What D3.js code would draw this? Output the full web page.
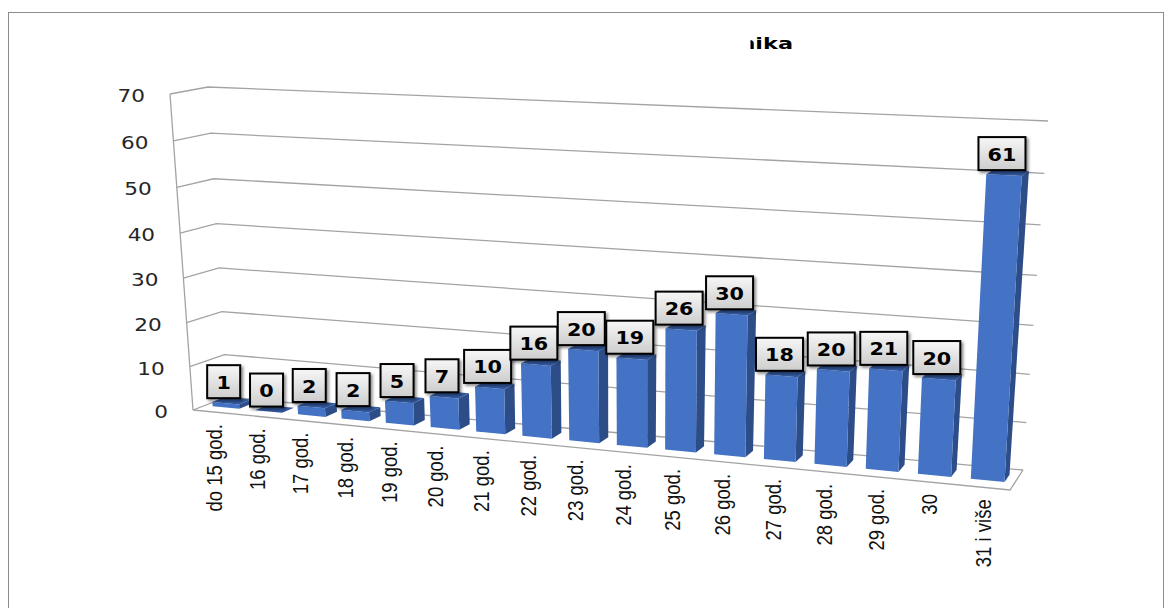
<!DOCTYPE html>
<html>
<head>
<meta charset="utf-8">
<script src="https://cdn.jsdelivr.net/npm/d3@7/dist/d3.min.js"></script>
<style>
  html, body { margin: 0; padding: 0; background: #fff; }
  svg { display: block; }
</style>
</head>
<body>
<script>
// ---------------- DATA ----------------
const categories = ["do 15 god.", "16 god.", "17 god.", "18 god.", "19 god.", "20 god.", "21 god.",
  "22 god.", "23 god.", "24 god.", "25 god.", "26 god.", "27 god.", "28 god.", "29 god.", "30", "31 i više"];
const values = [1, 0, 2, 2, 5, 7, 10, 16, 20, 19, 26, 30, 18, 20, 21, 20, 61];
const yTicks = [0, 10, 20, 30, 40, 50, 60, 70];
const titleText = "nika";

// ---------------- LAYOUT ----------------
const W = 1173, H = 608;
// 3D plot box corners (screen), front plane and back wall: (u=0,v=0), (1,0), (1,1), (0,1)
const FRONT = [[193, 410], [1010, 490], [1028, 133], [170, 94]];
const BACK  = [[227, 397], [1023, 470], [1048, 121], [208, 87]];
const D0 = 0.35, D1 = 0.72;   // bar depth range (0 = front, 1 = back)

function homography(q) {
  const [x0, y0] = q[0], [x1, y1] = q[1], [x2, y2] = q[2], [x3, y3] = q[3];
  const dx1 = x1 - x2, dx2 = x3 - x2, dx3 = x0 - x1 + x2 - x3;
  const dy1 = y1 - y2, dy2 = y3 - y2, dy3 = y0 - y1 + y2 - y3;
  const den = dx1 * dy2 - dx2 * dy1;
  const g = (dx3 * dy2 - dx2 * dy3) / den;
  const h = (dx1 * dy3 - dx3 * dy1) / den;
  const a = x1 - x0 + g * x1, b = x3 - x0 + h * x3, c = x0;
  const d = y1 - y0 + g * y1, e = y3 - y0 + h * y3, f = y0;
  return (u, v) => {
    const w = g * u + h * v + 1;
    return [(a * u + b * v + c) / w, (d * u + e * v + f) / w];
  };
}
const Hf = homography(FRONT), Hb = homography(BACK);
const P = (u, v, dd) => {
  const f = Hf(u, v), b = Hb(u, v);
  return [f[0] + (b[0] - f[0]) * dd, f[1] + (b[1] - f[1]) * dd];
};

const yScale = d3.scaleLinear().domain([0, 70]).range([0, 1]);
const xBand = d3.scaleBand().domain(categories).range([0, 1]).paddingInner(0.37).paddingOuter(0.185);

const svg = d3.select("body").append("svg").attr("width", W).attr("height", H);
const defs = svg.append("defs");
const grad = defs.append("linearGradient").attr("id", "lblGrad").attr("x1", 0).attr("y1", 0).attr("x2", 0).attr("y2", 1);
grad.append("stop").attr("offset", "0%").attr("stop-color", "#f7f7f7");
grad.append("stop").attr("offset", "100%").attr("stop-color", "#cdcdcd");
const flt = defs.append("filter").attr("id", "shadow").attr("x", "-20%").attr("y", "-20%").attr("width", "150%").attr("height", "150%");
flt.append("feDropShadow").attr("dx", 2).attr("dy", 2).attr("stdDeviation", 1.4).attr("flood-color", "#000").attr("flood-opacity", 0.45);
defs.append("clipPath").attr("id", "titleClip").append("rect").attr("x", 750.5).attr("y", 20).attr("width", 120).attr("height", 40);

// chart border
svg.append("rect").attr("x", 8.5).attr("y", 12.5).attr("width", 1155).attr("height", 640)
  .attr("fill", "none").attr("stroke", "#8c8c8c").attr("stroke-width", 1);

// title (partially hidden)
svg.append("g").attr("clip-path", "url(#titleClip)")
  .append("g").attr("transform", "translate(793,49) scale(1.4,1)")
  .append("text").attr("text-anchor", "end")
  .attr("font-family", "DejaVu Sans").attr("font-weight", "bold").attr("font-size", 16)
  .attr("fill", "#000").text(titleText);

const line = d3.line();
const gridColor = "#a3a3a3";

// back wall and side wall gridlines
const grid = svg.append("g").attr("fill", "none").attr("stroke", gridColor).attr("stroke-width", 1.3);
yTicks.forEach(t => {
  const v = yScale(t);
  grid.append("path").attr("d", line([Hf(0, v), Hb(0, v), Hb(1, v)]));
});
// left front vertical edge
grid.append("path").attr("d", line([Hf(0, 0), Hf(0, 1)]));
// floor
grid.append("path").attr("d", line([Hf(0, 0), Hf(1, 0), Hb(1, 0)]));

// bars
const bars = svg.append("g");
categories.forEach((c, i) => {
  const u0 = xBand(c), u1 = u0 + xBand.bandwidth();
  const v = yScale(values[i]);
  const g = bars.append("g");
  g.append("path").attr("fill", "#2c4d87")
    .attr("d", line([P(u1, 0, D0), P(u1, 0, D1), P(u1, v, D1), P(u1, v, D0)]) + "Z");
  g.append("path").attr("fill", "#4472c4")
    .attr("d", line([P(u0, 0, D0), P(u1, 0, D0), P(u1, v, D0), P(u0, v, D0)]) + "Z");
  g.append("path").attr("fill", "#3259a0")
    .attr("d", line([P(u0, v, D0), P(u1, v, D0), P(u1, v, D1), P(u0, v, D1)]) + "Z");
});

// data labels
const labels = svg.append("g");
categories.forEach((c, i) => {
  const uc = xBand(c) + xBand.bandwidth() / 2;
  const v = yScale(values[i]);
  const top = P(uc, v, D0);
  const txt = String(values[i]);
  const bw = 19 + 14 * txt.length, bh = 33;
  const cx = top[0] - 2, by = top[1] - 5;
  labels.append("rect").attr("x", cx - bw / 2).attr("y", by - bh).attr("width", bw).attr("height", bh)
    .attr("fill", "url(#lblGrad)").attr("stroke", "#000").attr("stroke-width", 2)
    .attr("filter", "url(#shadow)");
  labels.append("g").attr("transform", `translate(${cx},${by - bh / 2 + 1}) scale(1.15,1)`)
    .append("text").attr("text-anchor", "middle").attr("dominant-baseline", "central")
    .attr("font-family", "DejaVu Sans").attr("font-weight", "bold").attr("font-size", 18)
    .attr("fill", "#000").text(txt);
});

// y tick labels
const yAx = svg.append("g");
yTicks.forEach(t => {
  const p = Hf(0, yScale(t));
  yAx.append("g").attr("transform", `translate(${p[0] - 25},${p[1] + 2}) scale(1.2,1)`)
    .append("text").attr("text-anchor", "end").attr("dominant-baseline", "central")
    .attr("font-family", "DejaVu Sans").attr("font-size", 18).attr("fill", "#262626").text(t);
});

// category labels
const xAx = svg.append("g");
categories.forEach(c => {
  const uc = xBand(c) + xBand.bandwidth() / 2;
  const p = Hf(uc, 0);
  xAx.append("text")
    .attr("transform", `translate(${p[0]},${p[1] + 12}) rotate(-90) scale(1,1.2)`)
    .attr("text-anchor", "end").attr("dy", "0.35em")
    .attr("font-family", "Liberation Sans").attr("font-size", 18.5).attr("fill", "#111").text(c);
});
</script>
</body>
</html>
